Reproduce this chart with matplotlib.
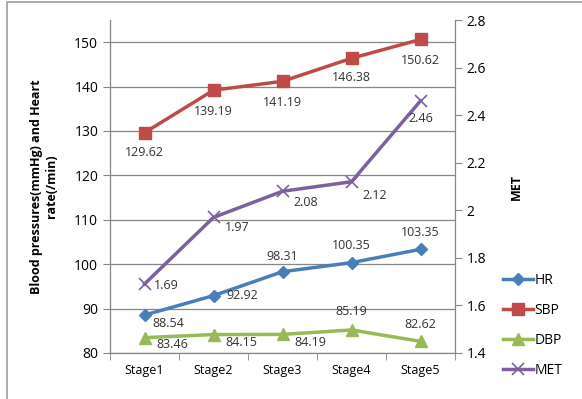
import matplotlib
matplotlib.use("Agg")
import matplotlib.pyplot as plt
from matplotlib.lines import Line2D

stages = ["Stage1", "Stage2", "Stage3", "Stage4", "Stage5"]
hr = [88.54, 92.92, 98.31, 100.35, 103.35]
sbp = [129.62, 139.19, 141.19, 146.38, 150.62]
dbp = [83.46, 84.15, 84.19, 85.19, 82.62]
met = [1.69, 1.97, 2.08, 2.12, 2.46]
left_ticks = [80, 90, 100, 110, 120, 130, 140, 150]
right_ticks = [1.4, 1.6, 1.8, 2.0, 2.2, 2.4, 2.6, 2.8]
right_tick_labels = ["1.4", "1.6", "1.8", "2", "2.2", "2.4", "2.6", "2.8"]

plt.rcParams['font.family'] = ['Open Sans', 'DejaVu Sans']
FS = 9

c_hr = "#4A7EBB"
c_sbp = "#BE4B48"
c_dbp = "#98B954"
c_met = "#7D60A0"

fig = plt.figure(figsize=(5.82, 3.99), dpi=100)
# outer frame (left and top edges visible)
fig.lines.append(Line2D([7/582, 7/582, 1.0], [0.0, 1-2/399, 1-2/399], transform=fig.transFigure,
                        color="#A6A6A6", linewidth=1.3))
ax = fig.add_axes([110/582, 1-353/399, 345/582, 333/399])
ax2 = ax.twinx()

x = list(range(len(stages)))
ax.set_xlim(-0.5, len(stages) - 0.5)
ax.set_ylim(80, 155)
ax2.set_ylim(1.4, 2.8)

for v in left_ticks:
    ax.axhline(v, color="#868686", linewidth=0.9, zorder=0)

l_hr, = ax.plot(x, hr, color=c_hr, marker="D", markersize=6, linewidth=2.5, label="HR", zorder=3)
l_sbp, = ax.plot(x, sbp, color=c_sbp, marker="s", markersize=8, linewidth=2.5, label="SBP", zorder=3)
l_dbp, = ax.plot(x, dbp, color=c_dbp, marker="^", markersize=8, linewidth=2.5, label="DBP", zorder=3)
l_met, = ax2.plot(x, met, color=c_met, marker="x", markersize=9, markeredgewidth=1.2, linewidth=2.5, label="MET", zorder=3)

def lab(a, xs, ys, fmt, offs):
    for xi, yi, (dx, dy) in zip(xs, ys, offs):
        a.annotate(fmt(yi), (xi, yi), xytext=(dx, dy), textcoords="offset points",
                   ha="center", va="center", fontsize=FS, color="#333333")

f2 = lambda v: f"{v:.2f}"
lab(ax, x, hr, f2, [(17, -6), (21, 0), (0, 11), (0, 12), (0, 12)])
lab(ax, x, sbp, f2, [(0, -14), (0, -15), (0, -15), (0, -14), (0, -15)])
lab(ax, x, dbp, f2, [(20, -5), (20, -6), (20, -6), (0, 13), (0, 12)])
lab(ax2, x, met, lambda v: f"{v:g}", [(16, -1), (17, -7), (17, -8), (17, -10), (0, -13)])

ax.set_xticks(x)
ax.set_xticklabels(stages, fontsize=FS)
ax.set_xticks([i + 0.5 for i in range(-1, len(stages))], minor=True)
ax.tick_params(axis="x", which="major", length=0, pad=8)
ax.tick_params(axis="x", which="minor", length=5, direction="out", color="#868686")
ax.set_yticks(left_ticks)
ax.set_yticklabels([str(v) for v in left_ticks], fontsize=FS + 1)
ax.tick_params(axis="y", length=5, direction="out", color="#868686")
ax2.set_yticks(right_ticks)
ax2.set_yticklabels(right_tick_labels, fontsize=FS + 1)
ax2.tick_params(axis="y", length=5, direction="out", color="#868686")

for a in (ax, ax2):
    for s in a.spines.values():
        s.set_visible(False)
ax.spines["left"].set_visible(True)
ax.spines["bottom"].set_visible(True)
ax2.spines["right"].set_visible(True)
for s in (ax.spines["left"], ax.spines["bottom"], ax2.spines["right"]):
    s.set_color("#868686")
    s.set_linewidth(0.9)

ax.set_ylabel("Blood pressures(mmHg) and Heart\nrate(/min)", fontsize=FS, fontweight="bold", labelpad=12)
ax2.set_ylabel("MET", fontsize=FS, fontweight="bold", rotation=90, labelpad=17)

fig.legend([l_hr, l_sbp, l_dbp, l_met], ["HR", "SBP", "DBP", "MET"],
           loc="upper left", bbox_to_anchor=(490/582, 1-260/399), frameon=False,
           fontsize=FS + 1, handlelength=2.2, handletextpad=0.1, labelspacing=1.1)

fig.savefig("out.png", dpi=100)
